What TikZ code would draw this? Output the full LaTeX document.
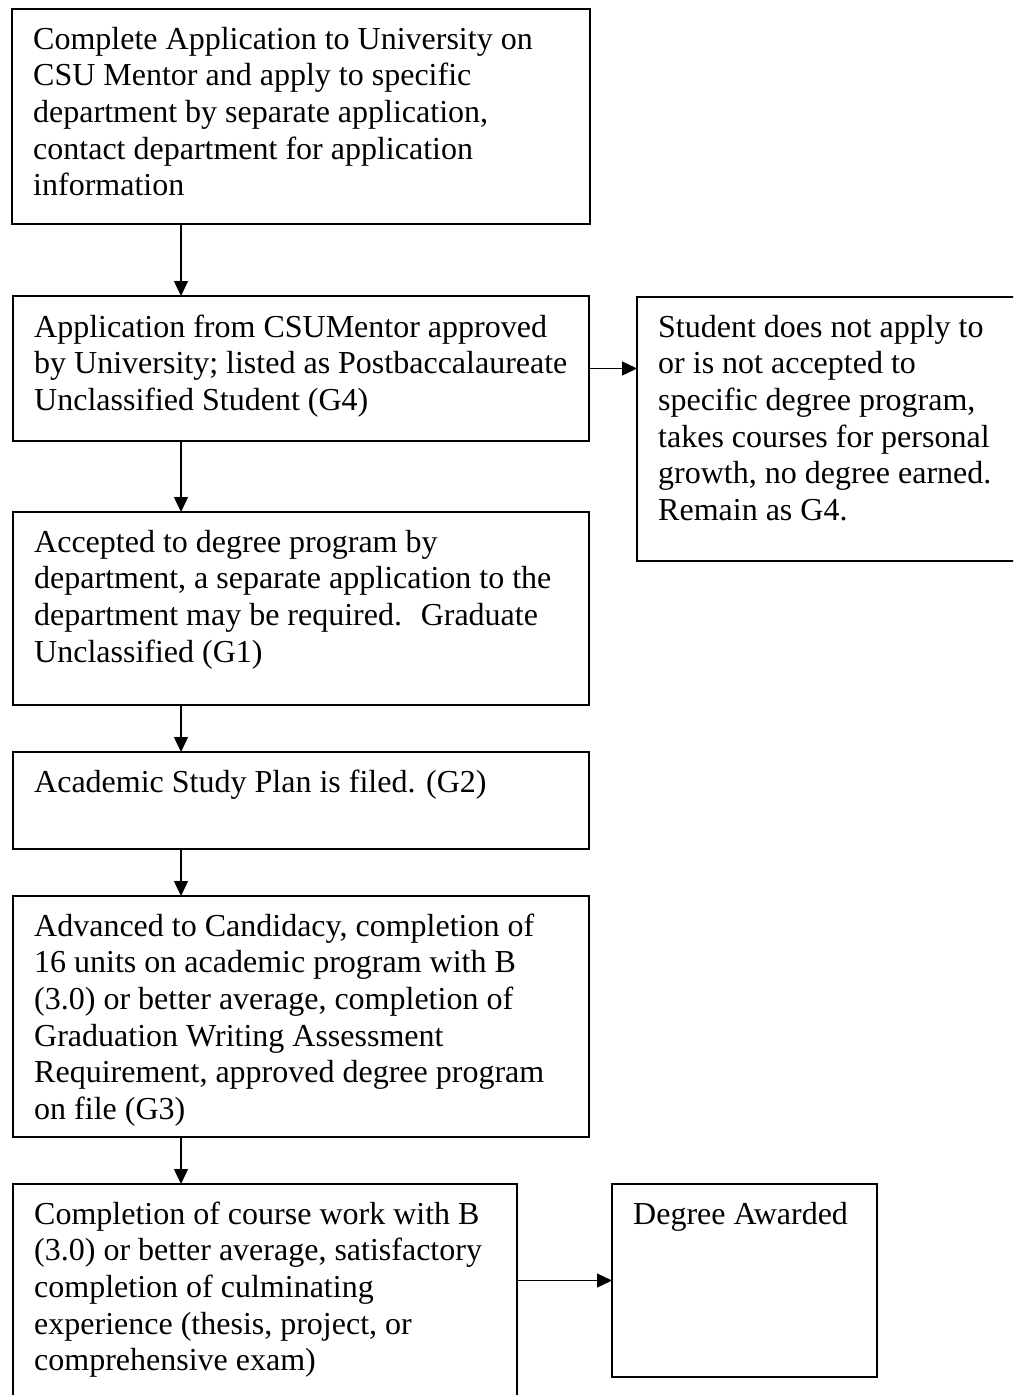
\documentclass[tikz,border=0pt]{standalone}
\usepackage{fontspec}
\setmainfont{Liberation Serif}
\usetikzlibrary{arrows.meta,calc}
\newcommand{\firststrut}{\rule{0pt}{25pt}}
\tikzset{
  box/.style={draw, line width=1.8pt, anchor=north west, inner sep=0pt, outer sep=0pt},
  txt/.style={anchor=north west, align=left, inner sep=0pt, font=\fontsize{32}{36.6}\selectfont},
  arr/.style={line width=1.3pt, -{Triangle[length=15pt,width=14pt]}}
}
\begin{document}
\begin{tikzpicture}[x=1pt,y=-1pt]
\useasboundingbox (0,0) rectangle (1013,1395);
\clip (0,0) rectangle (1013,1395);
% boxes
\node[box, minimum width=578pt, minimum height=215pt] (b1) at (12,9) {};
\node[box, minimum width=576pt, minimum height=145pt] (b2) at (13,296) {};
\node[box, minimum width=400pt, minimum height=264pt] (g4) at (637,297) {};
\node[box, minimum width=576pt, minimum height=193pt] (b3) at (13,512) {};
\node[box, minimum width=576pt, minimum height=97pt] (b4) at (13,752) {};
\node[box, minimum width=576pt, minimum height=241pt] (b5) at (13,896) {};
\node[box, minimum width=504pt, minimum height=230pt] (b6) at (13,1184) {};
\node[box, minimum width=265pt, minimum height=193pt] (b7) at (612,1184) {};
% texts
\node[txt] (t1) at ($(b1.north west)+(21,15)$) {\firststrut Complete Application to University on\\CSU Mentor and apply to specific\\department by separate application,\\contact department for application\\information};
\node[txt] (t2) at ($(b2.north west)+(21,16)$) {\firststrut Application from CSUMentor approved\\by University; listed as Postbaccalaureate\\Unclassified Student (G4)};
\node[txt] (tg) at ($(g4.north west)+(21,15)$) {\firststrut Student does not apply to\\or is not accepted to\\specific degree program,\\takes courses for personal\\growth, no degree earned.\\Remain as G4.};
\node[txt] (t3) at ($(b3.north west)+(21,15)$) {\firststrut Accepted to degree program by\\department, a separate application to the\\department may be required.~ Graduate\\Unclassified (G1)};
\node[txt] (t4) at ($(b4.north west)+(21,15)$) {\firststrut Academic Study Plan is filed. (G2)};
\node[txt] (t5) at ($(b5.north west)+(21,15)$) {\firststrut Advanced to Candidacy, completion of\\16 units on academic program with B\\(3.0) or better average, completion of\\Graduation Writing Assessment\\Requirement, approved degree program\\on file (G3)};
\node[txt] (t6) at ($(b6.north west)+(21,15)$) {\firststrut Completion of course work with B\\(3.0) or better average, satisfactory\\completion of culminating\\experience (thesis, project, or\\comprehensive exam)};
\node[txt] (t7) at ($(b7.north west)+(21,15)$) {\firststrut Degree Awarded};
% connectors
\coordinate (ax) at (181,0);
\draw[arr] (ax |- b1.south) -- (ax |- b2.north);
\draw[arr] (ax |- b2.south) -- (ax |- b3.north);
\draw[arr] (ax |- b3.south) -- (ax |- b4.north);
\draw[arr] (ax |- b4.south) -- (ax |- b5.north);
\draw[arr] (ax |- b5.south) -- (ax |- b6.north);
\draw[arr] (b2.east) -- (b2.east -| g4.west);
\draw[arr] (b7.west -| b6.east) -- (b7.west);
\end{tikzpicture}
\end{document}
